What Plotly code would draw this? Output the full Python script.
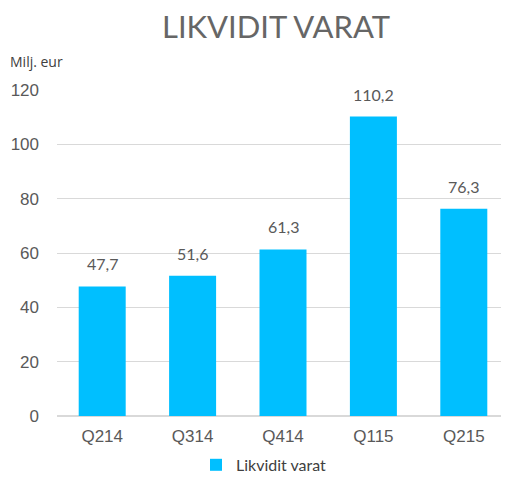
import plotly.graph_objects as go

categories = ["Q214", "Q314", "Q414", "Q115", "Q215"]
values = [47.7, 51.6, 61.3, 110.2, 76.3]
value_labels = ["47,7", "51,6", "61,3", "110,2", "76,3"]
series_name = "Likvidit varat"

fig = go.Figure()
fig.add_trace(go.Bar(
    x=categories, y=values, name=series_name,
    marker=dict(color="#00BFFF", line=dict(width=0)),
    width=0.52,
    showlegend=True,
))

label_annotations = [
    dict(x=c, y=v, text=t, xref="x", yref="y", showarrow=False, yanchor="bottom",
         yshift=11, font=dict(family="Lato, Open Sans, sans-serif", size=16, color="#595959"))
    for c, v, t in zip(categories, values, value_labels)
]

fig.update_layout(
    width=501, height=478,
    margin=dict(l=49, r=0, t=82, b=70),
    paper_bgcolor="white", plot_bgcolor="white",
    title=dict(text="LIKVIDIT VARAT", x=0.535, xanchor="center", y=0.96, yanchor="middle",
               font=dict(family="Lato, Open Sans, sans-serif", size=31, color="#666666")),
    font=dict(family="Lato, Open Sans, sans-serif", color="#595959"),
    xaxis=dict(showgrid=False, showline=False, ticks="",
               tickfont=dict(family="Liberation Sans, Arial, sans-serif", size=17, color="#595959"),
               range=[-0.5, 4.5], ticklabelstandoff=8),
    yaxis=dict(range=[0, 120], tickvals=[0, 20, 40, 60, 80, 100, 120], showgrid=True,
               gridcolor="#d9d9d9", gridwidth=1, zeroline=True, zerolinecolor="#d9d9d9",
               tickfont=dict(family="Liberation Sans, Arial, sans-serif", size=17, color="#595959"),
               ticks="", ticklabelstandoff=17),
    legend=dict(orientation="h", x=0.3075, xanchor="left", y=-0.15, yanchor="middle",
                font=dict(size=16, color="#404040")),
    bargap=0.48,
    annotations=label_annotations + [
        dict(text="Milj. eur", xref="paper", yref="paper", x=-0.108, xanchor="left",
             y=1.086, yanchor="middle", showarrow=False,
             font=dict(family="Open Sans, sans-serif", size=14, color="#404040"))],
)

fig.write_html("out.html")
